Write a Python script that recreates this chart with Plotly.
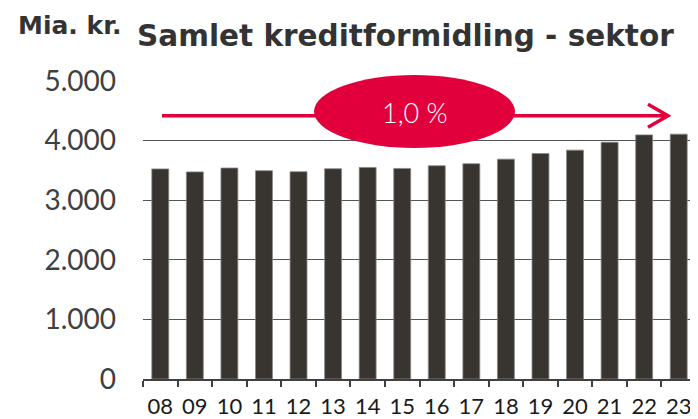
import plotly.graph_objects as go

years = ["08", "09", "10", "11", "12", "13", "14", "15", "16", "17", "18", "19", "20", "21", "22", "23"]
kredit = [3525, 3475, 3540, 3495, 3478, 3528, 3550, 3533, 3578, 3612, 3689, 3783, 3840, 3973, 4096, 4108]
y_ticks = [0, 1000, 2000, 3000, 4000, 5000]
y_ticklabels = ["0", "1.000", "2.000", "3.000", "4.000", "5.000"]
growth_label = "1,0 %"

# page body has an 8px margin: size the figure so it fits the 698x419 window
OFF = 8
W, H = 698 - OFF, 419 - OFF
L, R, T, B = 143 - OFF, 2, 81 - OFF, 40
pw, ph = W - L - R, H - T - B

def px(x):  # reference-window pixel -> paper
    return (x - OFF - L) / pw

def py(y):
    return (H + OFF - B - y) / ph

RED = "#E2003C"
DARK = "#383430"

fig = go.Figure()
fig.add_trace(go.Bar(
    x=years, y=kredit,
    marker=dict(color=DARK, line=dict(color="#8a8886", width=0.8)),
    hoverinfo="skip",
))

# arrow (line + open chevron head)
ax0, ax1, ay = 162, 668, 115.7
path = (f"M {px(ax0)},{py(ay)} L {px(ax1)},{py(ay)} "
        f"M {px(ax1-20)},{py(ay-11.5)} L {px(ax1)},{py(ay)} L {px(ax1-20)},{py(ay+11.5)}")
shapes = [
    dict(type="path", xref="paper", yref="paper", path=path,
         line=dict(color=RED, width=3.5), layer="above"),
    dict(type="circle", xref="paper", yref="paper",
         x0=px(314), x1=px(515), y0=py(148), y1=py(75),
         fillcolor=RED, line=dict(width=0), layer="above"),
]

annotations = [
    dict(text=growth_label, xref="paper", yref="paper", x=px(415), y=py(113),
         showarrow=False, font=dict(family="Lato", size=27, color="white", weight=300),
         xanchor="center", yanchor="middle"),
    dict(text="<b>Mia. kr.</b>", xref="paper", yref="paper", x=px(16), y=py(25),
         showarrow=False, font=dict(family="DejaVu Sans", size=25, color="#333333"),
         xanchor="left", yanchor="middle"),
    dict(text="<b>Samlet kreditformidling - sektor</b>", xref="paper", yref="paper",
         x=px(135), y=py(36), showarrow=False,
         font=dict(family="DejaVu Sans", size=29.5, color="#333333"),
         xanchor="left", yanchor="middle"),
]

fig.update_layout(
    width=W, height=H,
    margin=dict(l=L, r=R, t=T, b=B, pad=0, autoexpand=False),
    paper_bgcolor="white", plot_bgcolor="white",
    showlegend=False,
    bargap=0.51,
    shapes=shapes,
    annotations=annotations,
    xaxis=dict(
        type="category", range=[-0.5, 15.5], automargin=False,
        showline=True, linecolor="#404040", linewidth=1.5,
        ticks="outside", tickson="boundaries", ticklen=6, tickcolor="#404040", tickwidth=1.5,
        tickangle=0, ticklabelstandoff=7,
        tickfont=dict(family="Lato", size=22, color="#1a1a1a"),
        showgrid=False, fixedrange=True,
    ),
    yaxis=dict(
        range=[0, 5000], tickvals=y_ticks, ticktext=y_ticklabels, automargin=False,
        showgrid=True, gridcolor="#555555", gridwidth=1,
        zeroline=False, showline=False, ticks="",
        ticklabelstandoff=26,
        tickfont=dict(family="Lato", size=28, color="#404040"),
        fixedrange=True,
    ),
)

fig.write_html("out.html")
